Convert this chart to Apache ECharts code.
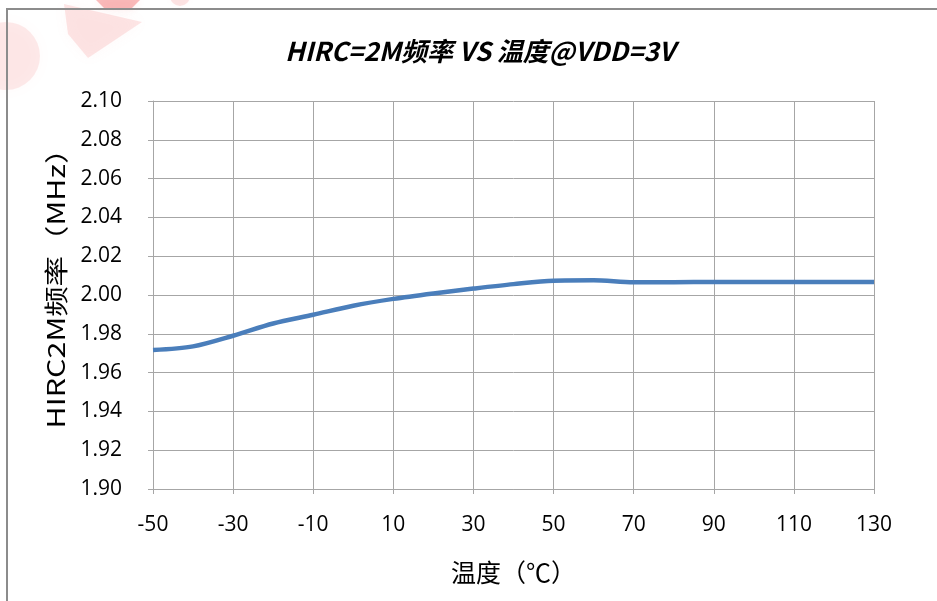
<!DOCTYPE html>
<html>
<head>
<meta charset="utf-8">
<script src="https://cdn.jsdelivr.net/npm/echarts@6/dist/echarts.min.js"></script>
<style>
  html, body { margin: 0; padding: 0; background: #fff; }
  #chart { width: 937px; height: 601px; }
</style>
</head>
<body>
<div id="chart"></div>
<script>
// Temperature points (°C) and measured HIRC 2 MHz frequency (MHz) at VDD = 3 V
const temperatures = [-50, -40, -30, -20, -10, 0, 10, 20, 30, 40, 50, 60, 70, 80, 90, 100, 110, 120, 130];
const frequencyMHz = [1.9716, 1.9735, 1.9790, 1.9853, 1.9898, 1.9945, 1.9980, 2.0008, 2.0033, 2.0056, 2.0074, 2.0076, 2.0066, 2.0066, 2.0067, 2.0067, 2.0067, 2.0067, 2.0067];

const titleText = 'HIRC=2M频率 VS 温度@VDD=3V';
const xAxisName = '温度（℃）';
const yAxisName = 'HIRC2M频率（MHz）';

const latinFont = '"Open Sans", "Noto Sans CJK SC", sans-serif';
const cjkFont = '"Noto Sans CJK SC", "Noto Sans", sans-serif';

const chart = echarts.init(document.getElementById('chart'), null, { renderer: 'canvas' });

chart.setOption({
  animation: false,
  backgroundColor: '#ffffff',
  title: {
    text: titleText,
    left: 475,
    top: 33,
    textAlign: 'center',
    textStyle: {
      fontFamily: cjkFont,
      fontSize: 26,
      fontWeight: 'bold',
      fontStyle: 'italic',
      color: '#000'
    }
  },
  graphic: [
    // faint logo mark in the corner
    {
      type: 'circle',
      shape: { cx: 6, cy: 56, r: 34 },
      style: { fill: 'rgba(245,130,130,0.16)', shadowBlur: 14, shadowColor: 'rgba(245,130,130,0.25)' },
      z: 0
    },
    {
      type: 'polygon',
      shape: { points: [[64, 4], [142, 22], [88, 58], [68, 34]] },
      style: { fill: 'rgba(245,130,130,0.2)', shadowBlur: 14, shadowColor: 'rgba(245,130,130,0.25)' },
      z: 0
    },
    {
      type: 'polygon',
      shape: { points: [[96, 0], [140, 0], [130, 10], [104, 8]] },
      style: { fill: 'rgba(240,70,70,0.35)', shadowBlur: 8, shadowColor: 'rgba(240,70,70,0.3)' },
      z: 0
    },
    {
      type: 'circle',
      shape: { cx: 180, cy: -4, r: 10 },
      style: { fill: 'rgba(245,130,130,0.2)', shadowBlur: 6, shadowColor: 'rgba(245,130,130,0.25)' },
      z: 0
    },
    // chart frame
    {
      type: 'rect',
      shape: { x: 7, y: 9, width: 960, height: 640 },
      style: { fill: 'none', stroke: '#8c8c8c', lineWidth: 2 },
      z: 1
    },
    // vertical y-axis title
    {
      type: 'text',
      x: 56,
      y: 281,
      rotation: Math.PI / 2,
      scaleX: 1.27,
      style: {
        text: yAxisName,
        font: '24px ' + cjkFont,
        fill: '#000',
        align: 'center',
        verticalAlign: 'middle'
      },
      z: 5
    }
  ],
  grid: {
    left: 153,
    right: 63,
    top: 101,
    bottom: 112,
    containLabel: false
  },
  xAxis: {
    type: 'category',
    data: temperatures.map(String),
    boundaryGap: false,
    name: xAxisName,
    nameLocation: 'middle',
    nameGap: 71,
    nameTextStyle: { fontFamily: cjkFont, fontSize: 25, color: '#000' },
    axisLine: { lineStyle: { color: '#a6a6a6', width: 1 } },
    axisTick: { show: true, interval: 1, length: 5, lineStyle: { color: '#a6a6a6' } },
    axisLabel: {
      interval: 1,
      margin: 26,
      fontFamily: latinFont,
      fontSize: 21,
      color: '#000'
    },
    splitLine: { show: true, interval: 1, lineStyle: { color: '#a6a6a6', width: 1 } }
  },
  yAxis: {
    type: 'value',
    min: 1.90,
    max: 2.10,
    interval: 0.02,
    axisLine: { show: true, lineStyle: { color: '#a6a6a6', width: 1 } },
    axisTick: { show: true, length: 5, lineStyle: { color: '#a6a6a6' } },
    axisLabel: {
      margin: 31,
      fontFamily: latinFont,
      fontSize: 21,
      color: '#000',
      formatter: v => v.toFixed(2)
    },
    splitLine: { show: true, lineStyle: { color: '#a6a6a6', width: 1 } }
  },
  series: [{
    type: 'line',
    data: frequencyMHz,
    smooth: 0.3,
    showSymbol: false,
    lineStyle: { color: '#4a7ebb', width: 4.5 },
    z: 3
  }]
});
</script>
</body>
</html>
